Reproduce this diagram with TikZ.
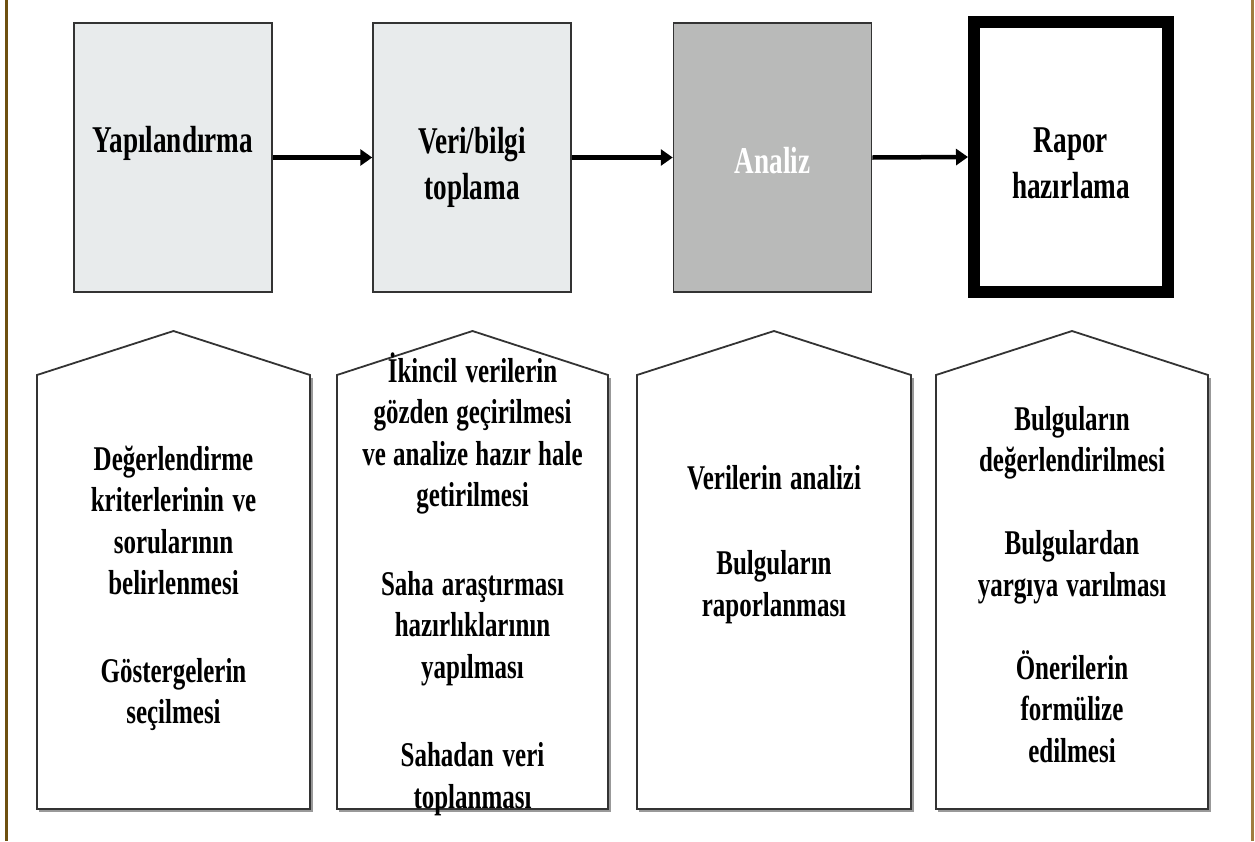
\documentclass[tikz,border=0pt]{standalone}
\usepackage{fontspec}
\newfontfamily\tnr{Liberation Serif}[FakeStretch=0.72]
\usetikzlibrary{arrows.meta}
\definecolor{lightbox}{HTML}{E8EBEC}
\definecolor{midbox}{HTML}{B9BAB9}
\definecolor{edgec}{HTML}{333333}
\definecolor{lframe}{HTML}{6E5010}
\definecolor{rframe}{HTML}{A07E40}
\begin{document}
\begin{tikzpicture}[x=1pt,y=-1pt,
  topbox/.style={draw=edgec, line width=1.5pt, minimum width=198pt, minimum height=269pt, inner sep=0pt},
  toptext/.style={font=\tnr\bfseries\fontsize{37.8pt}{46.5pt}\selectfont, text width=190pt, align=center, anchor=base, inner sep=0pt, execute at begin node={\spaceskip=0pt\xspaceskip=0pt}},
  bottext/.style={font=\tnr\bfseries\fontsize{34.7pt}{41.5pt}\selectfont, text width=265pt, align=center, anchor=base, inner sep=0pt, execute at begin node={\spaceskip=0pt\xspaceskip=0pt}},
  flow/.style={line width=4.5pt, -{Triangle[length=12pt,width=16pt]}},
  house/.style={draw=edgec, line width=1.8pt, fill=white, line join=miter},
  houseshadow/.style={draw=black!40, line width=2pt},
]
\fill[white] (0,0) rectangle (1255,841);
\useasboundingbox (0,0) rectangle (1255,841);
% frame lines
\draw[lframe, line width=2.5pt] (6.5,0) -- (6.5,841);
\draw[rframe, line width=3pt] (1252.5,0) -- (1252.5,841);

% top boxes
\node[topbox, fill=lightbox] (b1) at (173,157.5) {};
\node[topbox, fill=lightbox] (b2) at (472,157.5) {};
\node[topbox, fill=midbox] (b3) at (772.5,157.5) {};
\node[draw=black, line width=12pt, fill=white, minimum width=194pt, minimum height=270pt, inner sep=0pt] (b4) at (1071,157) {};

\node[toptext] (t1) at (173,152) {Yapılandırma};
\node[toptext] (t2) at (472,153) {Veri/bilgi\\toplama};
\node[toptext, text=white] (t3) at (772.5,173) {Analiz};
\node[toptext] (t4) at (1071,152) {Rapor\\hazırlama};

\draw[flow] (b1.east) -- (b2.west);
\draw[flow] (b2.east) -- (b3.west);
\draw[flow] (b3.east) -- (b4.west);

% bottom houses
\draw[houseshadow] (39,811) -- (312,811) -- (312,378);
\draw[house] (37,809) -- (37,375) -- (173.5,331) -- (310,375) -- (310,809) -- cycle;
\draw[houseshadow] (339,811) -- (610,811) -- (610,378);
\draw[house] (337,809) -- (337,375) -- (472.5,331) -- (608,375) -- (608,809) -- cycle;
\draw[houseshadow] (639,811) -- (913,811) -- (913,378);
\draw[house] (637,809) -- (637,375) -- (774,331) -- (911,375) -- (911,809) -- cycle;
\draw[houseshadow] (938,811) -- (1210,811) -- (1210,378);
\draw[house] (936,809) -- (936,375) -- (1072,331) -- (1208,375) -- (1208,809) -- cycle;

\node[bottext] (d1) at (173.5,470) {Değerlendirme\\kriterlerinin ve\\sorularının\\belirlenmesi\\[46pt]Göstergelerin\\seçilmesi};
\node[bottext] (d2) at (472.5,382) {İkincil verilerin\\gözden geçirilmesi\\ve analize hazır hale\\getirilmesi\\[47pt]Saha araştırması\\hazırlıklarının\\yapılması\\[47pt]Sahadan veri\\toplanması};
\node[bottext] (d3) at (774,489) {Verilerin analizi\\[44pt]Bulguların\\raporlanması};
\node[bottext] (d4) at (1072,430) {Bulguların\\değerlendirilmesi\\[41.5pt]Bulgulardan\\yargıya varılması\\[41.5pt]Önerilerin\\formülize\\edilmesi};
\end{tikzpicture}
\end{document}
